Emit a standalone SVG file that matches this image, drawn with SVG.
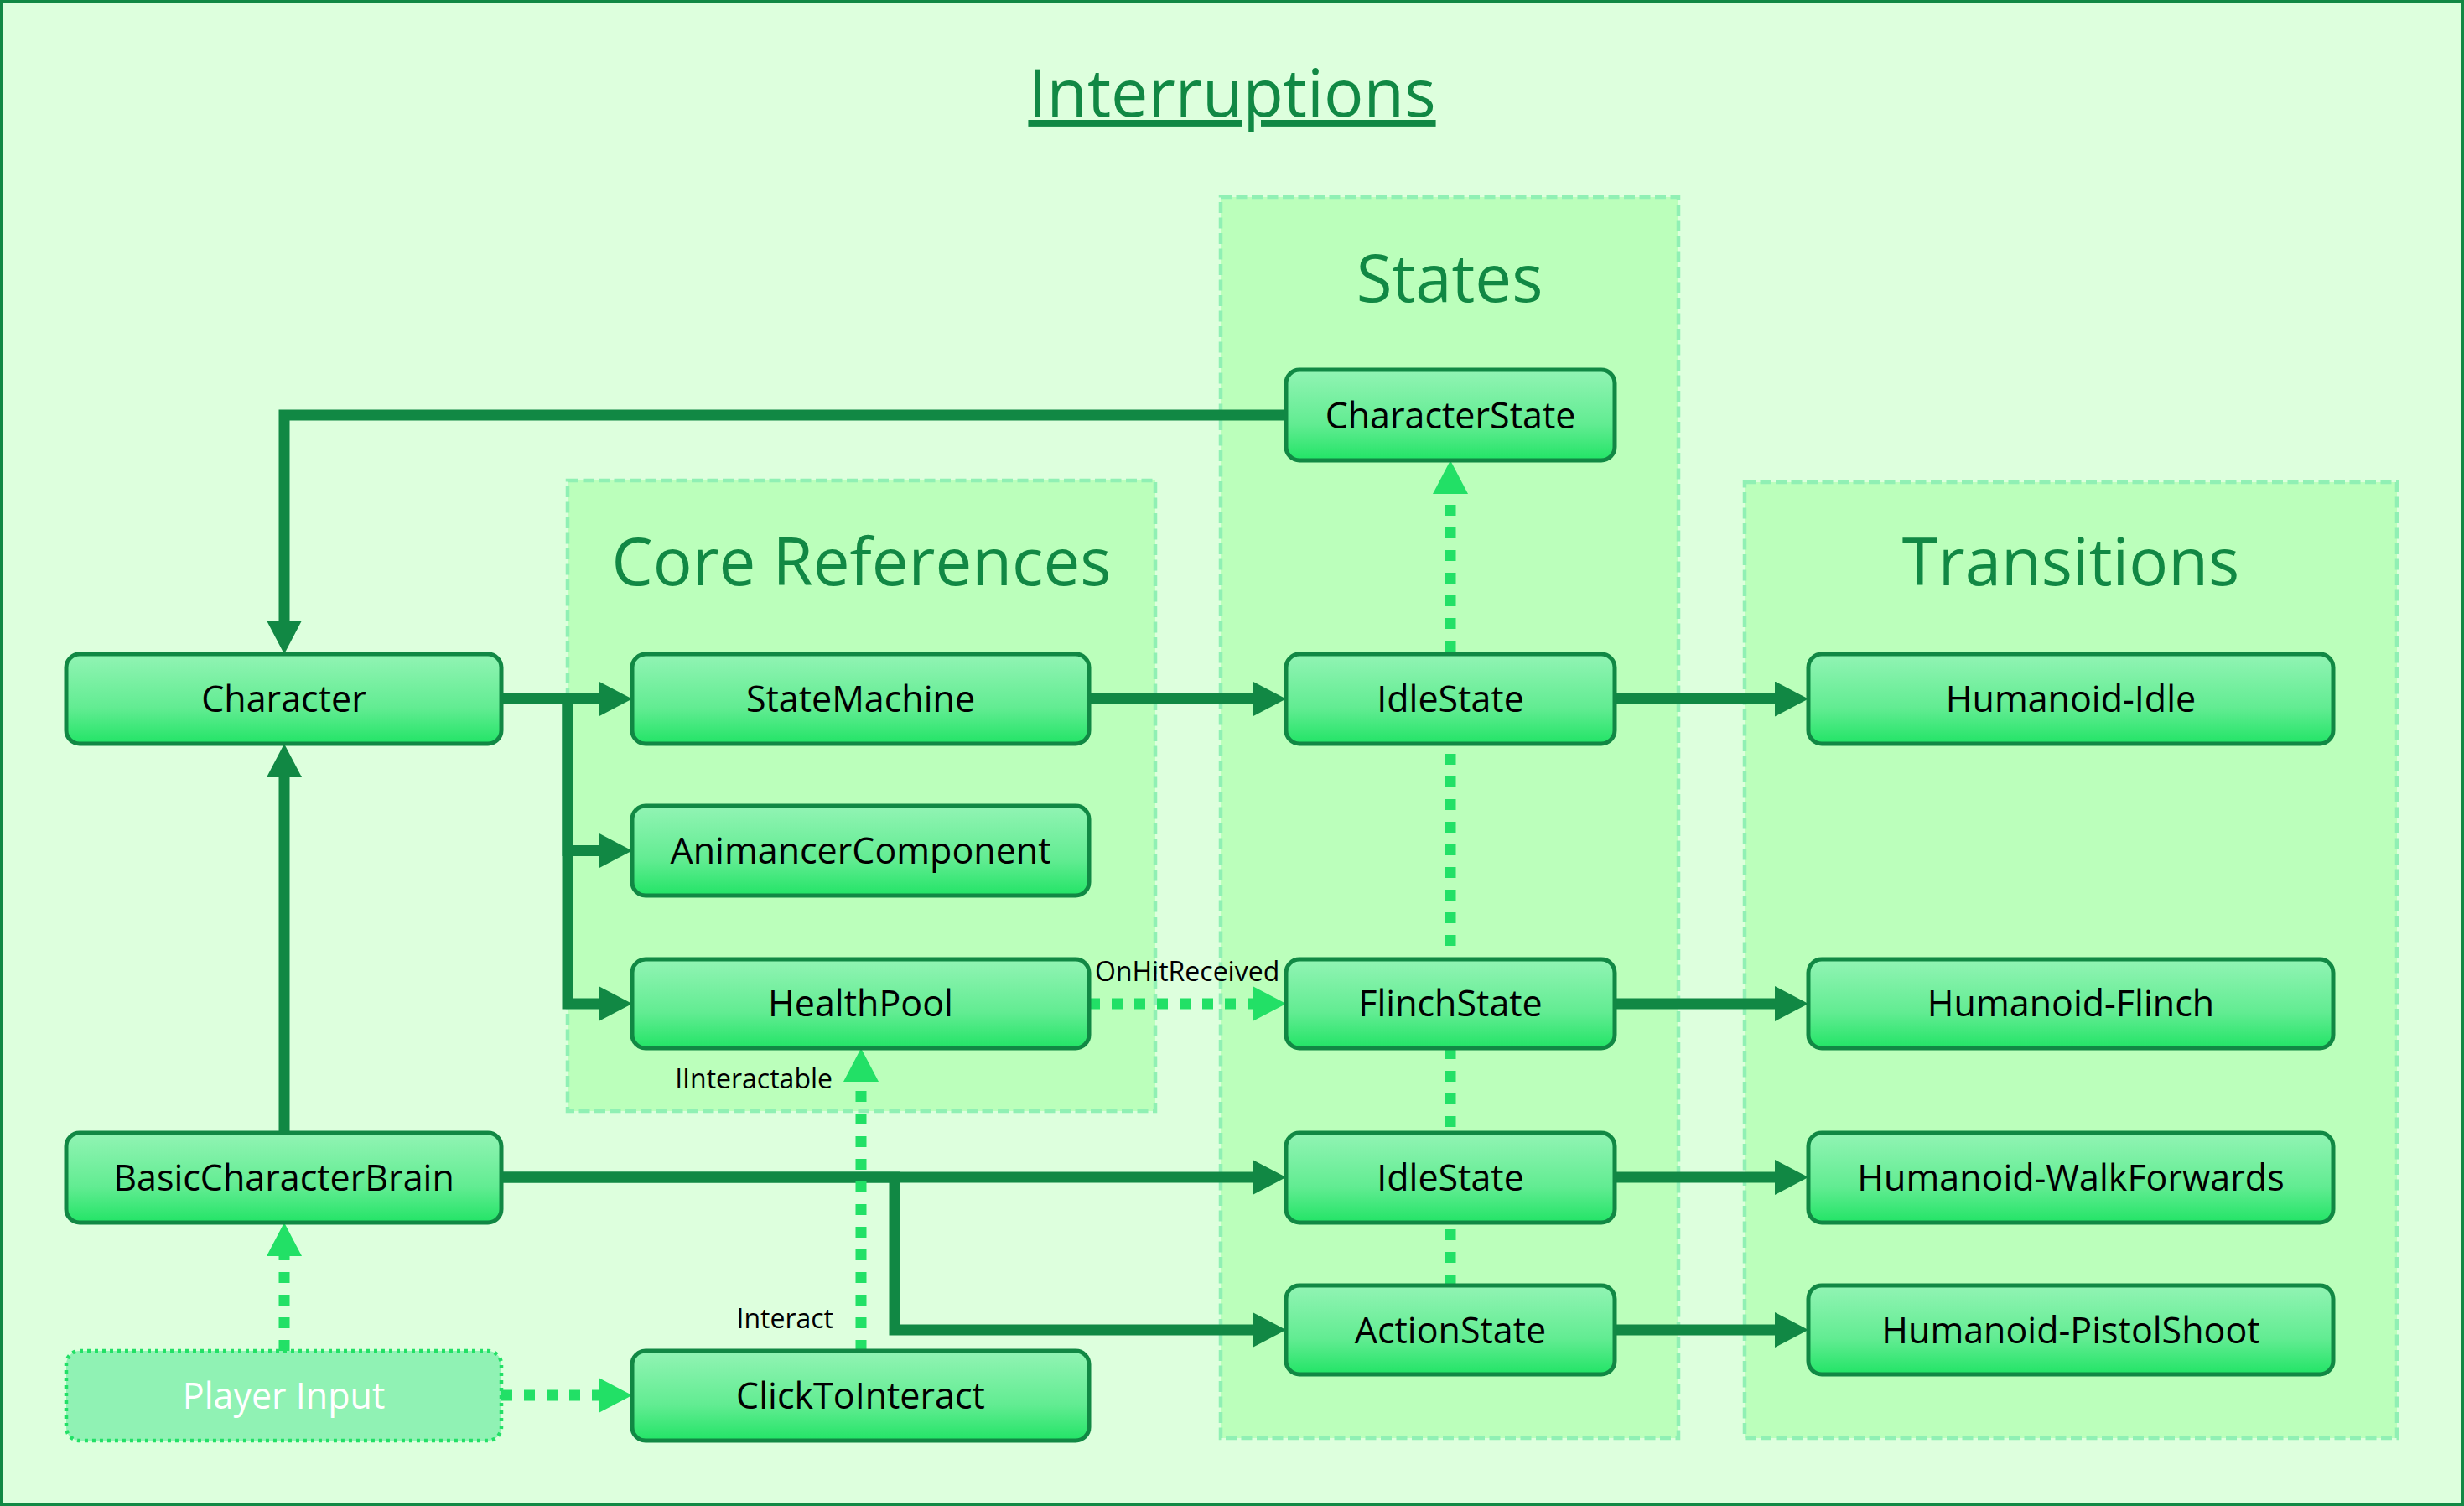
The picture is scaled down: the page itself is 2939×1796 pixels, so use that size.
<svg xmlns="http://www.w3.org/2000/svg" width="2939" height="1796" viewBox="0 0 2939 1796">
<defs>
<linearGradient id="nodeFill" x1="0" y1="0" x2="0" y2="1">
<stop offset="0" stop-color="#92F4B4"/>
<stop offset="0.6" stop-color="#62EC92"/>
<stop offset="1" stop-color="#22E466"/>
</linearGradient>
<marker id="arrDark" markerUnits="userSpaceOnUse" markerWidth="40" markerHeight="42" viewBox="0 0 40 42" refX="0" refY="21" orient="auto">
<path d="M0,0 L40,21 L0,42 Z" fill="#118844"/>
</marker>
<marker id="arrBright" markerUnits="userSpaceOnUse" markerWidth="40" markerHeight="42" viewBox="0 0 40 42" refX="0" refY="21" orient="auto">
<path d="M0,0 L40,21 L0,42 Z" fill="#22E066"/>
</marker>
</defs>
<style>
.grp{fill:#BBFFBB;stroke:#90F0B4;stroke-width:4.5;stroke-dasharray:13 5.5}
.gtitle{font-family:"Open Sans","Noto Sans",sans-serif;font-size:78px;fill:#118844;text-anchor:middle}
.node rect{fill:url(#nodeFill);stroke:#118844;stroke-width:5}
.node text{font-family:"Open Sans","Noto Sans",sans-serif;font-size:43px;fill:#000000;text-anchor:middle}
.input rect{fill:#90F2B4;stroke:#22E066;stroke-width:4.5;stroke-dasharray:4 5}
.input text{font-family:"Open Sans","Noto Sans",sans-serif;font-size:43px;fill:#FFFFFF;text-anchor:middle}
.solid{fill:none;stroke:#118844;stroke-width:13;stroke-linejoin:miter;marker-end:url(#arrDark)}
.dot{fill:none;stroke:#22E066;stroke-width:13;stroke-dasharray:13 14;marker-end:url(#arrBright)}
.lbl{font-family:"Open Sans","Noto Sans",sans-serif;font-size:32px;fill:#000000}
</style>
<rect x="0" y="0" width="2939" height="1796" fill="#DDFFDD" stroke="#118844" stroke-width="6"/>
<text x="1469.5" y="139" font-family="Open Sans, Noto Sans, sans-serif" font-size="79" fill="#118844" text-anchor="middle" text-decoration="underline">Interruptions</text>

<g id="group-core-references">
<rect class="grp" x="677" y="573" width="701" height="752"/>
<text class="gtitle" x="1027.5" y="698">Core References</text>
</g>
<g id="group-states">
<rect class="grp" x="1456" y="235" width="546" height="1480"/>
<text class="gtitle" x="1729" y="360">States</text>
</g>
<g id="group-transitions">
<rect class="grp" x="2081" y="575" width="778" height="1140"/>
<text class="gtitle" x="2470" y="698">Transitions</text>
</g>

<g id="connectors">
<path class="solid" d="M1534,495 H339 V740"/>
<path class="solid" d="M598,833.5 H714"/>
<path class="solid" d="M598,833.5 H677 V1014.5 H714"/>
<path class="solid" d="M598,833.5 H677 V1197 H714"/>
<path class="solid" d="M1299,833.5 H1494"/>
<path class="solid" d="M1926,833.5 H2117"/>
<path class="solid" d="M1926,1197 H2117"/>
<path class="solid" d="M1926,1404 H2117"/>
<path class="solid" d="M1926,1586 H2117"/>
<path class="solid" d="M339,1351 V927"/>
<path class="solid" d="M598,1404 H1494"/>
<path class="solid" d="M598,1404 H1067 V1586 H1494"/>
<path class="dot" d="M1299,1197 H1494"/>
<path class="dot" d="M1027,1611 V1290"/>
<path class="dot" d="M339,1611 V1498"/>
<path class="dot" d="M598,1664 H714"/>
<path class="dot" d="M1730,1533 V589"/>
<text class="lbl" x="1306" y="1170">OnHitReceived</text>
<text class="lbl" x="993" y="1298" text-anchor="end">IInteractable</text>
<text class="lbl" x="994" y="1584" text-anchor="end">Interact</text>
</g>

<g id="node-character" class="node"><rect x="79" y="780" width="519" height="107" rx="16"/><text x="338.5" y="849">Character</text></g>
<g id="node-statemachine" class="node"><rect x="754" y="780" width="545" height="107" rx="16"/><text x="1026.5" y="849">StateMachine</text></g>
<g id="node-animancercomponent" class="node"><rect x="754" y="961" width="545" height="107" rx="16"/><text x="1026.5" y="1030">AnimancerComponent</text></g>
<g id="node-healthpool" class="node"><rect x="754" y="1144" width="545" height="106" rx="16"/><text x="1026.5" y="1212">HealthPool</text></g>
<g id="node-basiccharacterbrain" class="node"><rect x="79" y="1351" width="519" height="107" rx="16"/><text x="338.5" y="1420">BasicCharacterBrain</text></g>
<g id="node-playerinput" class="input"><rect x="79" y="1611" width="519" height="107" rx="16"/><text x="338.5" y="1680">Player Input</text></g>
<g id="node-clicktointeract" class="node"><rect x="754" y="1611" width="545" height="107" rx="16"/><text x="1026.5" y="1680">ClickToInteract</text></g>
<g id="node-characterstate" class="node"><rect x="1534" y="441" width="392" height="108" rx="16"/><text x="1730" y="511">CharacterState</text></g>
<g id="node-idlestate" class="node"><rect x="1534" y="780" width="392" height="107" rx="16"/><text x="1730" y="849">IdleState</text></g>
<g id="node-flinchstate" class="node"><rect x="1534" y="1144" width="392" height="106" rx="16"/><text x="1730" y="1212">FlinchState</text></g>
<g id="node-idlestate2" class="node"><rect x="1534" y="1351" width="392" height="107" rx="16"/><text x="1730" y="1420">IdleState</text></g>
<g id="node-actionstate" class="node"><rect x="1534" y="1533" width="392" height="106" rx="16"/><text x="1730" y="1602">ActionState</text></g>
<g id="node-humanoid-idle" class="node"><rect x="2157" y="780" width="626" height="107" rx="16"/><text x="2470" y="849">Humanoid-Idle</text></g>
<g id="node-humanoid-flinch" class="node"><rect x="2157" y="1144" width="626" height="106" rx="16"/><text x="2470" y="1212">Humanoid-Flinch</text></g>
<g id="node-humanoid-walkforwards" class="node"><rect x="2157" y="1351" width="626" height="107" rx="16"/><text x="2470" y="1420">Humanoid-WalkForwards</text></g>
<g id="node-humanoid-pistolshoot" class="node"><rect x="2157" y="1533" width="626" height="106" rx="16"/><text x="2470" y="1602">Humanoid-PistolShoot</text></g>
</svg>
